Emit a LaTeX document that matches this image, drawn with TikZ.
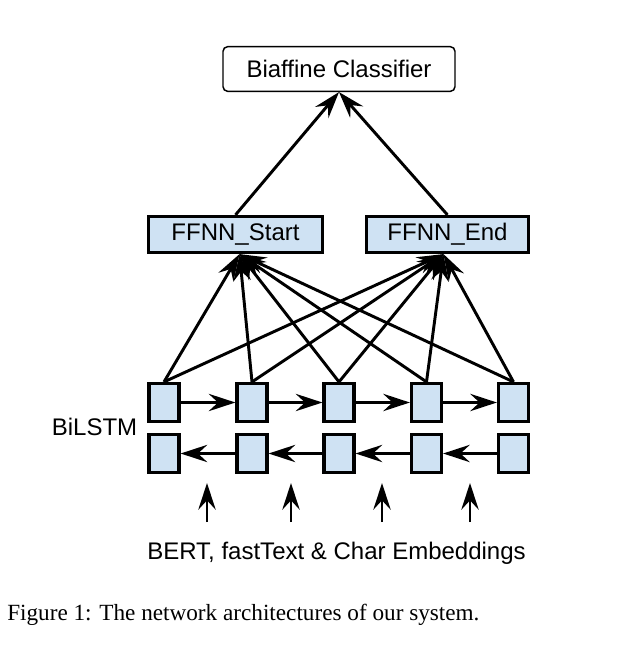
\documentclass[tikz,border=0pt]{standalone}
\usepackage{fontspec}
\setmainfont{Liberation Serif}
\newfontfamily\arial{Liberation Sans}
\usetikzlibrary{arrows.meta,positioning,calc}
\definecolor{boxblue}{HTML}{CFE2F3}
\begin{document}
\begin{tikzpicture}[x=0.75pt,y=-0.75pt,
  lbl/.style={font=\arial\fontsize{18}{21}\selectfont, inner sep=0pt},
  cls/.style={draw, line width=1.1pt, rounded corners=3.5pt, inner sep=0pt,
    minimum width=174pt, minimum height=33.5pt, font=\arial\fontsize{18}{21}\selectfont},
  ffbox/.style={draw, fill=boxblue, line width=2.4pt, inner sep=0pt,
    minimum height=27pt, font=\arial\fontsize{18}{21}\selectfont},
  cell/.style={draw, fill=boxblue, line width=2.4pt, inner sep=0pt,
    minimum width=22.5pt, minimum height=28.5pt},
  conn/.style={line width=2.2pt, -{Stealth[length=20pt, width=13pt, inset=7pt]}},
]
\useasboundingbox (0,0) rectangle (617,647);

% top classifier
\node[cls] (bc) at (339,69) {Biaffine Classifier};

% FFNN boxes
\node[ffbox, minimum width=130.5pt] (fs) at (235.5,234.5) {FFNN\_Start};
\node[ffbox, minimum width=121.5pt] (fe) at (447.5,234.5) {FFNN\_End};

% BiLSTM cells
\foreach \i/\x in {1/164,2/252,3/339,4/426.5,5/513.5} {
  \node[cell] (f\i) at (\x,402.5) {};
  \node[cell] (b\i) at (\x,453.5) {};
}

% labels
\node[lbl] (bilstm) at (94.5,427) {BiLSTM};
\node[lbl] (emb) at (336.5,553) {BERT, fastText \& Char Embeddings};
\node[inner sep=0pt, anchor=west, font=\fontsize{17.4}{20}\selectfont] (cap) at (7,615)
  {Figure 1: The network architectures of our system.};

% input arrows
\foreach \i/\x in {1/207,2/291,3/382,4/470} {
  \coordinate (in\i) at (\x,522);
  \coordinate (out\i) at (\x,483);
  \draw[conn] (in\i) -- (out\i);
}

% forward / backward recurrences
\foreach \a/\b in {1/2,2/3,3/4,4/5} {
  \draw[conn] (f\a.east) -- (f\b.west);
  \draw[conn] (b\b.west) -- (b\a.east);
}

% cells to FFNN
\foreach \i in {1,...,5} {
  \draw[conn] (f\i.north) -- ([xshift=3pt]fs.south);
  \draw[conn] (f\i.north) -- ([xshift=-3pt]fe.south);
}

% FFNN to classifier
\draw[conn] (fs.north) -- (bc.south);
\draw[conn] (fe.north) -- (bc.south);
\end{tikzpicture}
\end{document}
